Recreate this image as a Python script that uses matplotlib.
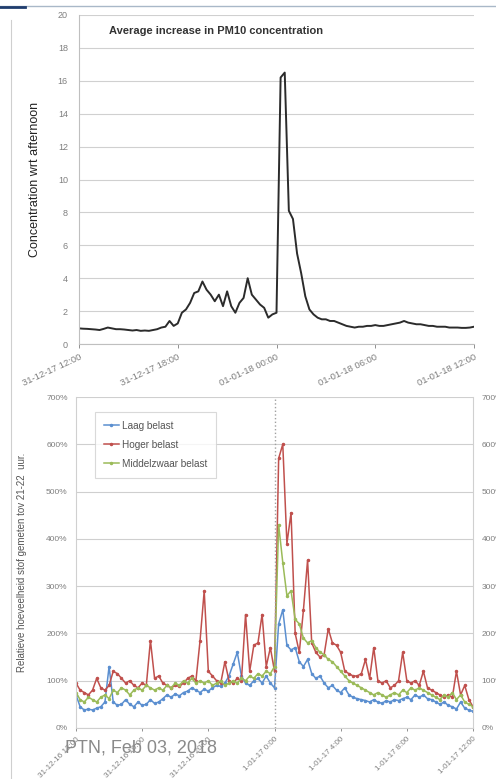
import numpy as np
import matplotlib; matplotlib.use("Agg")
import matplotlib.pyplot as plt
from matplotlib.lines import Line2D
from matplotlib.ticker import FuncFormatter

plt.rcParams['font.family'] = ['Liberation Sans', 'DejaVu Sans']

# top chart: average increase in PM10, 15-min steps from 31-12-17 12:00
pm10 = [0.95, 0.93, 0.92, 0.90, 0.88, 0.85, 0.92, 1.00, 0.95, 0.90, 0.90, 0.88,
        0.85, 0.82, 0.85, 0.80, 0.82, 0.80, 0.85, 0.90, 1.00, 1.05, 1.40, 1.10,
        1.25, 1.90, 2.10, 2.50, 3.10, 3.20, 3.80, 3.30, 3.00, 2.60, 3.00, 2.30,
        3.20, 2.30, 1.90, 2.50, 2.80, 4.00, 3.00, 2.70, 2.40, 2.20, 1.60, 1.80,
        1.90, 16.2, 16.5, 8.10, 7.60, 5.50, 4.30, 2.90, 2.10, 1.80, 1.60, 1.50,
        1.50, 1.40, 1.40, 1.30, 1.20, 1.10, 1.05, 1.00, 1.05, 1.05, 1.10, 1.10,
        1.15, 1.10, 1.10, 1.15, 1.20, 1.25, 1.30, 1.40, 1.30, 1.25, 1.20, 1.20,
        1.15, 1.10, 1.10, 1.05, 1.05, 1.05, 1.00, 1.00, 1.00, 0.98, 0.98, 1.00,
        1.05]
top_ticks = ["31-12-17 12:00", "31-12-17 18:00", "01-01-18 00:00",
             "01-01-18 06:00", "01-01-18 12:00"]

# bottom chart: relative dust vs 21-22h, 15-min steps from 31-12-16 12:00
laag = [0.70, 0.45, 0.38, 0.40, 0.38, 0.42, 0.45, 0.55, 1.30, 0.55, 0.48, 0.50,
        0.60, 0.50, 0.45, 0.55, 0.48, 0.50, 0.60, 0.52, 0.55, 0.62, 0.70, 0.65,
        0.72, 0.68, 0.75, 0.78, 0.85, 0.80, 0.75, 0.82, 0.78, 0.85, 0.90, 0.88,
        0.95, 1.10, 1.35, 1.60, 1.10, 0.95, 0.90, 1.00, 1.05, 0.95, 1.10, 0.95,
        0.85, 2.20, 2.50, 1.75, 1.65, 1.70, 1.40, 1.30, 1.45, 1.15, 1.05, 1.10,
        0.95, 0.85, 0.90, 0.80, 0.75, 0.85, 0.70, 0.65, 0.62, 0.60, 0.58, 0.55,
        0.60, 0.55, 0.52, 0.58, 0.55, 0.60, 0.58, 0.62, 0.65, 0.60, 0.70, 0.65,
        0.70, 0.62, 0.60, 0.55, 0.50, 0.55, 0.48, 0.45, 0.40, 0.55, 0.42, 0.38,
        0.35]
hoger = [0.95, 0.80, 0.75, 0.70, 0.80, 1.05, 0.85, 0.80, 0.90, 1.20, 1.15, 1.05,
         0.95, 1.00, 0.90, 0.85, 0.95, 0.90, 1.85, 1.05, 1.10, 0.95, 0.90, 0.85,
         0.90, 0.88, 0.95, 1.05, 1.10, 1.00, 1.85, 2.90, 1.20, 1.10, 1.00, 0.95,
         1.40, 1.00, 0.95, 1.05, 1.00, 2.40, 1.20, 1.75, 1.80, 2.40, 1.30, 1.70,
         1.20, 5.70, 6.00, 3.90, 4.55, 2.00, 1.60, 2.50, 3.55, 1.80, 1.60, 1.50,
         1.55, 2.10, 1.80, 1.75, 1.60, 1.20, 1.15, 1.10, 1.10, 1.15, 1.45, 1.05,
         1.70, 1.00, 0.95, 1.00, 0.85, 0.90, 1.00, 1.60, 1.00, 0.95, 1.00, 0.90,
         1.20, 0.85, 0.80, 0.75, 0.70, 0.65, 0.70, 0.65, 1.20, 0.70, 0.90, 0.60,
         0.45]
middel = [0.75, 0.60, 0.55, 0.65, 0.60, 0.55, 0.65, 0.70, 0.62, 0.80, 0.75, 0.85,
          0.80, 0.70, 0.80, 0.85, 0.80, 0.90, 0.85, 0.80, 0.85, 0.80, 0.90, 0.85,
          0.95, 0.90, 1.00, 0.95, 1.05, 0.95, 1.00, 0.95, 1.00, 0.90, 0.95, 1.00,
          0.90, 0.95, 1.00, 0.95, 1.05, 1.00, 1.10, 1.05, 1.15, 1.10, 1.20, 1.15,
          1.30, 4.30, 3.50, 2.80, 2.90, 2.30, 2.20, 1.90, 1.80, 1.85, 1.70, 1.60,
          1.55, 1.45, 1.40, 1.30, 1.20, 1.10, 1.00, 0.95, 0.90, 0.85, 0.80, 0.75,
          0.70, 0.75, 0.70, 0.65, 0.70, 0.75, 0.70, 0.80, 0.75, 0.85, 0.80, 0.85,
          0.80, 0.75, 0.70, 0.65, 0.60, 0.70, 0.65, 0.75, 0.60, 0.70, 0.55, 0.50,
          0.45]
series_names = ["Laag belast", "Hoger belast", "Middelzwaar belast"]
series_colors = ["#5b8fd0", "#c0504d", "#9bbb59"]
bot_ticks = ["31-12-16 12:00", "31-12-16 16:00", "31-12-16 20:00", "1-01-17 0:00",
             "1-01-17 4:00", "1-01-17 8:00", "1-01-17 12:00"]

hours = np.arange(len(pm10)) * 0.25
grey = "#7f7f7f"

fig = plt.figure(figsize=(4.96, 7.79), dpi=100)

# ---- top chart
ax = fig.add_axes([79/496, 1-344/779, 395/496, 329/779])
ax.plot(hours, pm10, color="#2b2b2b", lw=1.4)
ax.set_xlim(0, 24); ax.set_ylim(0, 20)
ax.set_yticks(range(0, 21, 2))
ax.set_xticks(np.arange(0, 25, 6))
ax.set_xticklabels(top_ticks, rotation=25, ha="right", rotation_mode="anchor")
ax.grid(axis="y", color="#d0d0d0", lw=0.8)
for s in ("top", "right"): ax.spines[s].set_visible(False)
for s in ("left", "bottom"): ax.spines[s].set_color("#bfbfbf")
ax.tick_params(axis="x", labelsize=6.8, colors=grey, length=3, width=0.6, pad=3)
ax.tick_params(axis="y", labelsize=6.5, colors=grey, length=0, pad=8)
ax.set_ylabel("Concentration wrt afternoon", fontsize=9, color="#222222", labelpad=12)
ax.text(0.075, 0.95, "Average increase in PM10 concentration", transform=ax.transAxes,
        fontsize=8, fontweight="bold", color="#333333", va="center")

# ---- bottom chart
bx = fig.add_axes([76/496, 51/779, 397/496, 331/779])
for vals, name, col in zip([laag, hoger, middel], series_names, series_colors):
    bx.plot(hours, vals, color=col, lw=1.1, marker="o", ms=1.5, label=name)
bx.axvline(12, color="#a0a0a0", ls=":", lw=1.0)
bx.set_xlim(0, 24); bx.set_ylim(0, 7)
bx.set_yticks(range(0, 8))
pct = FuncFormatter(lambda v, p: f"{int(v*100)}%")
bx.yaxis.set_major_formatter(pct)
bx.set_xticks(np.arange(0, 25, 4))
bx.set_xticklabels(bot_ticks, rotation=45, ha="right", rotation_mode="anchor")
bx.grid(axis="y", color="#cfcfcf", lw=0.8)
bx.spines["top"].set_visible(False)
for s in ("left", "bottom", "right"): bx.spines[s].set_color("#d0d0d0")
bx.tick_params(axis="x", labelsize=5.8, colors=grey, length=2, width=0.6)
bx.tick_params(axis="y", labelsize=6, colors=grey, length=0, pad=6)
bx.set_ylabel("Relatieve hoeveelheid stof gemeten tov 21-22  uur.", fontsize=7,
              color="#555555", labelpad=14)
leg = bx.legend(loc="upper left", bbox_to_anchor=(0.035, 0.97), fontsize=7.2,
                frameon=True, fancybox=False, borderpad=0.9, labelspacing=0.9,
                handlelength=1.5, handletextpad=0.3)
leg.get_frame().set_edgecolor("#d0d0d0"); leg.get_frame().set_linewidth(0.8)
for t in leg.get_texts(): t.set_color("#555555")

# clipped axis labels of the neighbouring chart on the right
rx = bx.twinx()
rx.set_ylim(0, 7); rx.set_yticks(range(0, 8))
rx.yaxis.set_major_formatter(pct)
rx.tick_params(axis="y", labelsize=6, colors=grey, length=0, pad=6)
for s in rx.spines.values(): s.set_visible(False)

# slide frame and footer
fig.add_artist(Line2D([0, 1], [1-6/779, 1-6/779], color="#a9b8c8", lw=1.0))
fig.add_artist(Line2D([0, 25/496], [1-7/779, 1-7/779], color="#1f3d6e", lw=2.0))
fig.add_artist(Line2D([11/496, 11/496], [0, 1-20/779], color="#cfcfcf", lw=0.8))
fig.text(65/496, 1-748/779, "PTN, Feb 03, 2018", fontsize=13, color="#8a8a8a",
         va="center", ha="left")

fig.savefig("out.png", dpi=100)
